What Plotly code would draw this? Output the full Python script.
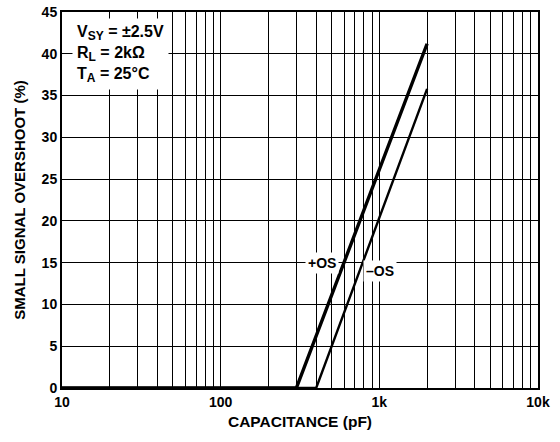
import plotly.graph_objects as go

# Data
plus_os_x = [10, 300, 2000]
plus_os_y = [0, 0, 41.2]
minus_os_x = [10, 400, 2000]
minus_os_y = [0, 0, 35.8]

x_tick_vals = [m * 10**e for e in range(1, 4) for m in range(1, 10)] + [10000]
x_tick_labels = {10: "10", 100: "100", 1000: "1k", 10000: "10k"}
y_tick_vals = list(range(0, 50, 5))

FONT = "Arial, Liberation Sans, sans-serif"

fig = go.Figure()
fig.add_trace(go.Scatter(x=plus_os_x, y=plus_os_y, mode="lines",
                         line=dict(color="black", width=3.4), showlegend=False,
                         cliponaxis=False))
fig.add_trace(go.Scatter(x=minus_os_x, y=minus_os_y, mode="lines",
                         line=dict(color="black", width=2.4), showlegend=False,
                         cliponaxis=False))

fig.update_xaxes(type="log", range=[1, 4], automargin=False,
                 tickvals=x_tick_vals,
                 ticktext=[x_tick_labels.get(v, "") for v in x_tick_vals],
                 showgrid=True, gridcolor="black", gridwidth=1,
                 showline=True, linecolor="black", linewidth=2, mirror=True,
                 ticks="", zeroline=False,
                 tickfont=dict(family=FONT, size=14, color="black", weight="bold"),
                 title=dict(text="CAPACITANCE (pF)", standoff=7,
                            font=dict(family=FONT, size=15.5, color="black", weight="bold")))
fig.update_yaxes(range=[0, 45], tickvals=y_tick_vals, automargin=False,
                 showgrid=True, gridcolor="black", gridwidth=1,
                 showline=True, linecolor="black", linewidth=2, mirror=True,
                 ticks="", zeroline=False,
                 tickfont=dict(family=FONT, size=14, color="black", weight="bold"),
                 title=dict(text="SMALL SIGNAL OVERSHOOT (%)", standoff=12,
                            font=dict(family=FONT, size=15, color="black", weight="bold")))

sub = "<sub><span style='font-size:12px'>{}</span></sub>"
fig.add_annotation(xref="paper", yref="paper", x=0.02, y=0.985,
                   xanchor="left", yanchor="top", align="left", showarrow=False,
                   bgcolor="white", borderpad=4,
                   text=("V" + sub.format("SY") + " = ±2.5V<br>R" + sub.format("L")
                         + " = 2kΩ<br>T" + sub.format("A") + " = 25°C"),
                   font=dict(family=FONT, size=16, color="black", weight="bold"))
fig.add_annotation(x=2.64, y=15.0, xref="x", yref="y", showarrow=False,
                   text="+OS", bgcolor="white", borderpad=2,
                   font=dict(family=FONT, size=14, color="black", weight="bold"))
fig.add_annotation(x=2.9, y=14.0, xref="x", yref="y", showarrow=False,
                   xanchor="left", text="–OS", bgcolor="white", borderpad=2,
                   font=dict(family=FONT, size=14, color="black", weight="bold"))

fig.update_layout(width=560, height=442, plot_bgcolor="white", paper_bgcolor="white",
                  margin=dict(l=62, r=22, t=12, b=54))

fig.write_html("out.html", config={"displayModeBar": False},
               post_script="document.body.style.margin='0';")
